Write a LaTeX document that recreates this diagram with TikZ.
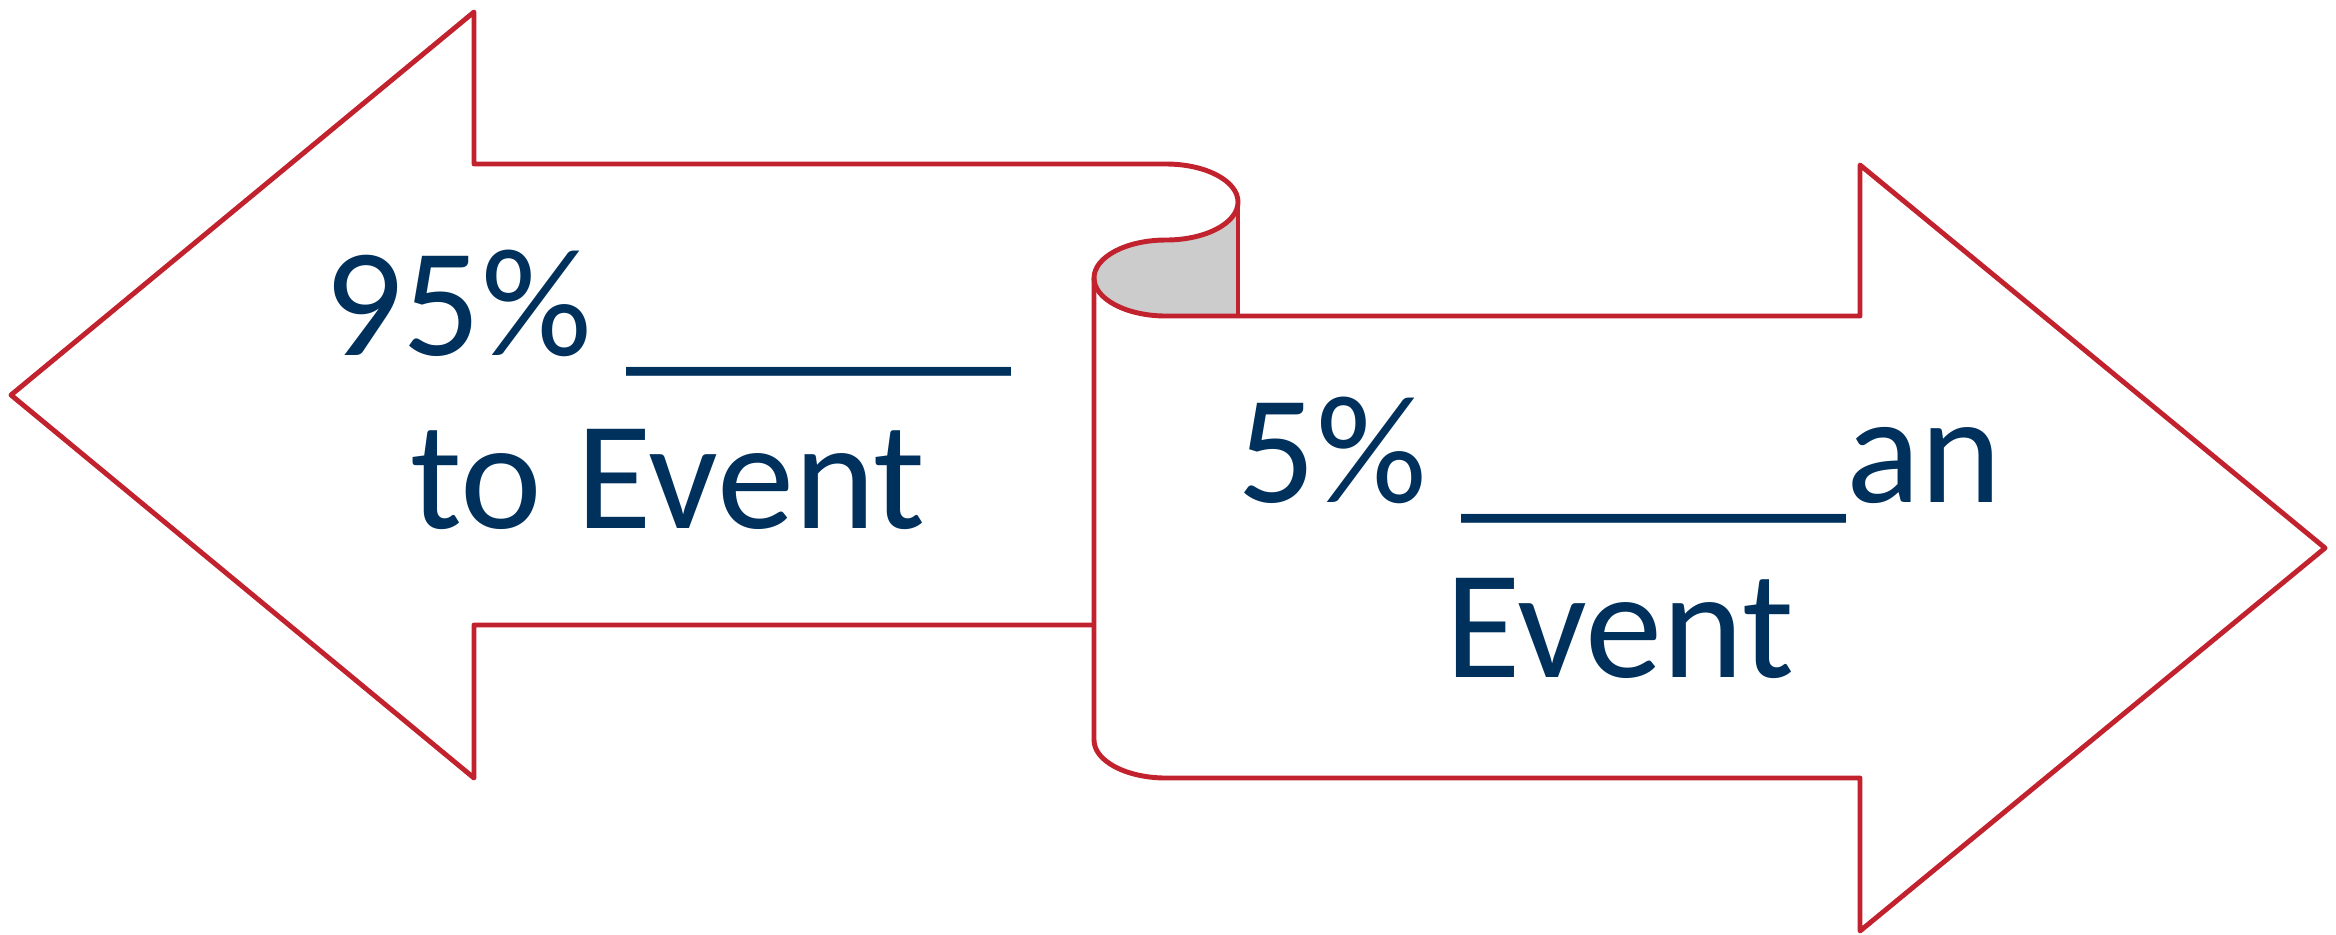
\documentclass[tikz,border=0pt]{standalone}
\usepackage{fontspec}
\setmainfont{Carlito}
\usepackage{tikz}

\definecolor{scrollred}{HTML}{C1222E}
\definecolor{textnavy}{HTML}{00305C}
\definecolor{scrollgray}{HTML}{CCCCCC}

\tikzset{
  outline/.style={draw=scrollred, line width=1.4pt, line join=round},
  txt/.style={text=textnavy, inner sep=0pt, anchor=base,
    font=\fontsize{44}{49.5}\selectfont}
}

\begin{document}
\begin{tikzpicture}
            \useasboundingbox (0,0) rectangle (23.36,9.34);
            % curl of the scroll
            \fill[scrollgray] (12.38,7.32)
                arc[start angle=0, end angle=-90, x radius=.72, y radius=.38]
                arc[start angle=90, end angle=270, x radius=.72, y radius=.38]
                -- (12.38,6.18) -- cycle;
            % left arrow
            \draw[outline] (10.94,3.09) -- (4.74,3.09) -- (4.74,1.56)
                -- (0.11,5.39) -- (4.74,9.22) -- (4.74,7.70) -- (11.66,7.70)
                arc[start angle=90, end angle=-90, x radius=.72, y radius=.38]
                arc[start angle=90, end angle=270, x radius=.72, y radius=.38];
            \draw[outline] (12.38,7.32) -- (12.38,6.18);
            % right arrow
            \draw[outline] (11.66,6.18) -- (18.60,6.18) -- (18.60,7.69)
                -- (23.25,3.86) -- (18.60,0.03) -- (18.60,1.56) -- (11.66,1.56)
                arc[start angle=270, end angle=180, x radius=.72, y radius=.38]
                -- (10.94,6.56);
            \node[txt] (left1) at (6.68,5.79) {95\% \_\_\_\_\_};
            \node[txt] (left2) at (6.68,4.06) {to Event};
            \node[txt] (right1) at (16.20,4.32) {5\% \_\_\_\_\_an};
            \node[txt] (right2) at (16.20,2.57) {Event};
        \end{tikzpicture}
\end{document}
